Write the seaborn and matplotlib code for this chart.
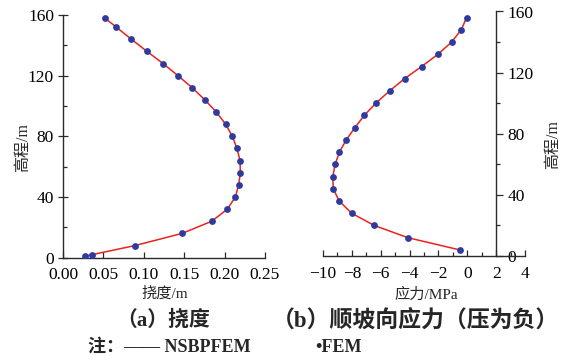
import matplotlib
matplotlib.use("Agg")
import matplotlib.pyplot as plt
import seaborn as sns
import numpy as np
import pandas as pd
from matplotlib.ticker import MultipleLocator

# ---- data ----
height_a = [158, 152, 144, 136, 128, 120, 112, 104, 96, 88, 80, 72, 64, 56, 48, 40, 32, 24, 16, 8, 2, 1]
deflection = [0.0516, 0.066, 0.0846, 0.104, 0.1238, 0.1423, 0.160, 0.1757, 0.1898, 0.2013, 0.2096,
              0.2153, 0.2191, 0.2195, 0.2174, 0.2133, 0.2034, 0.184, 0.1473, 0.0891, 0.0359, 0.0268]

height_b = [156, 148, 140, 132, 124, 116, 108, 100, 92, 84, 76, 68, 60, 52, 44, 36, 28, 20, 12, 4]
stress = [-0.05, -0.42, -1.09, -2.03, -3.17, -4.35, -5.39, -6.34, -7.14, -7.79, -8.39, -8.86,
          -9.16, -9.32, -9.29, -8.88, -8.02, -6.45, -4.12, -0.53]

xticks_a = [0.00, 0.05, 0.10, 0.15, 0.20, 0.25]
xticks_b = [-10, -8, -6, -4, -2, 0, 2, 4]
yticks = [0, 40, 80, 120, 160]

ylabel = "高程/m"
xlabel_a = "挠度/m"
xlabel_b = "应力/MPa"
title_a = "（a）挠度"
title_b = "（b）顺坡向应力（压为负）"
note_line = "注：—— NSBPFEM"
note_dot = "•FEM"

sns.set_theme(style="white")
plt.rcParams['font.family'] = ['Liberation Serif', 'Noto Sans CJK SC', 'DejaVu Sans']
plt.rcParams['axes.unicode_minus'] = True

RED = "#e8231f"
BLUE = "#2e3a9c"
SPINE = "#2a2a2a"
TICK_FS = 12.5

df_a = pd.DataFrame({"h": height_a, "d": deflection})
df_b = pd.DataFrame({"h": height_b, "s": stress})

fig = plt.figure(figsize=(5.71, 3.61), dpi=100)
ax1 = fig.add_axes([63/571, 1-257.7/361, 202/571, (257.7-15)/361])
ax2 = fig.add_axes([323/571, 1-256/361, 202/571, (256-11.5)/361])

# panel a
sns.lineplot(data=df_a, x="d", y="h", sort=False, estimator=None, color=RED, lw=1.1, ax=ax1)
sns.scatterplot(data=df_a, x="d", y="h", color=BLUE, s=24, edgecolor=BLUE, linewidth=0, ax=ax1, zorder=3)
ax1.set_xlim(0, 0.25)
ax1.set_ylim(0, 160)
ax1.set_xticks(xticks_a)
ax1.set_xticklabels([f"{t:.2f}" for t in xticks_a])
ax1.set_yticks(yticks)
ax1.yaxis.set_minor_locator(MultipleLocator(20))
for s in ["top", "right"]:
    ax1.spines[s].set_visible(False)
for s in ["left", "bottom"]:
    ax1.spines[s].set_color(SPINE)
    ax1.spines[s].set_linewidth(1.0)
ax1.tick_params(axis="x", which="both", direction="in", bottom=True, colors=SPINE, labelcolor="black",
                labelsize=TICK_FS, width=0.9, length=4, pad=7)
ax1.tick_params(axis="y", which="major", direction="inout", left=True, colors=SPINE, labelcolor="black",
                labelsize=TICK_FS, width=0.9, length=7, pad=3)
ax1.tick_params(axis="y", which="minor", direction="in", left=True, colors=SPINE, width=0.9, length=3)
ax1.set_xlabel("")
ax1.set_ylabel("")

# panel b
sns.lineplot(data=df_b, x="s", y="h", sort=False, estimator=None, color=RED, lw=1.1, ax=ax2)
sns.scatterplot(data=df_b, x="s", y="h", color=BLUE, s=24, edgecolor=BLUE, linewidth=0, ax=ax2, zorder=3)
ax2.set_xlim(-10, 4)
ax2.set_ylim(0, 160)
ax2.set_xticks(xticks_b)
ax2.set_xticklabels([str(t) if t >= 0 else "\u2212" + str(-t) for t in xticks_b])
ax2.xaxis.set_minor_locator(MultipleLocator(1))
ax2.set_yticks(yticks)
ax2.yaxis.set_minor_locator(MultipleLocator(20))
ax2.spines["left"].set_visible(False)
ax2.spines["top"].set_visible(False)
ax2.spines["right"].set_position(("data", 2))
for s in ["right", "bottom"]:
    ax2.spines[s].set_color(SPINE)
    ax2.spines[s].set_linewidth(1.0)
ax2.yaxis.tick_right()
ax2.tick_params(axis="x", which="major", direction="in", bottom=True, colors=SPINE, labelcolor="black",
                labelsize=TICK_FS, width=0.9, length=4, pad=7)
ax2.tick_params(axis="x", which="minor", direction="in", bottom=True, colors=SPINE, width=0.9, length=3)
ax2.tick_params(axis="y", which="major", direction="out", right=True, left=False, colors=SPINE,
                labelcolor="black", labelsize=TICK_FS, width=0.9, length=5, pad=3)
ax2.tick_params(axis="y", which="minor", direction="out", right=True, left=False, colors=SPINE,
                width=0.9, length=3)
ax2.set_xlabel("")
ax2.set_ylabel("")

# texts
fig.text(23/571, 1-147/361, ylabel, rotation=90, ha="center", va="center", fontsize=11.5)
fig.text(553/571, 1-145/361, ylabel, rotation=90, ha="center", va="center", fontsize=11.5)
fig.text(165/571, 1-294/361, xlabel_a, ha="center", va="center", fontsize=11)
fig.text(426/571, 1-295/361, xlabel_b, ha="center", va="center", fontsize=11)
fig.text(163/571, 1-321/361, title_a, ha="center", va="center", fontsize=15, fontweight="bold")
fig.text(415/571, 1-322/361, title_b, ha="center", va="center", fontsize=16.5, fontweight="bold")
fig.text(88/571, 1-347/361, note_line, ha="left", va="center", fontsize=13, fontweight="bold")
fig.text(315/571, 1-348/361, note_dot, ha="left", va="center", fontsize=13, fontweight="bold")

fig.savefig("out.png", dpi=100, facecolor="white")
